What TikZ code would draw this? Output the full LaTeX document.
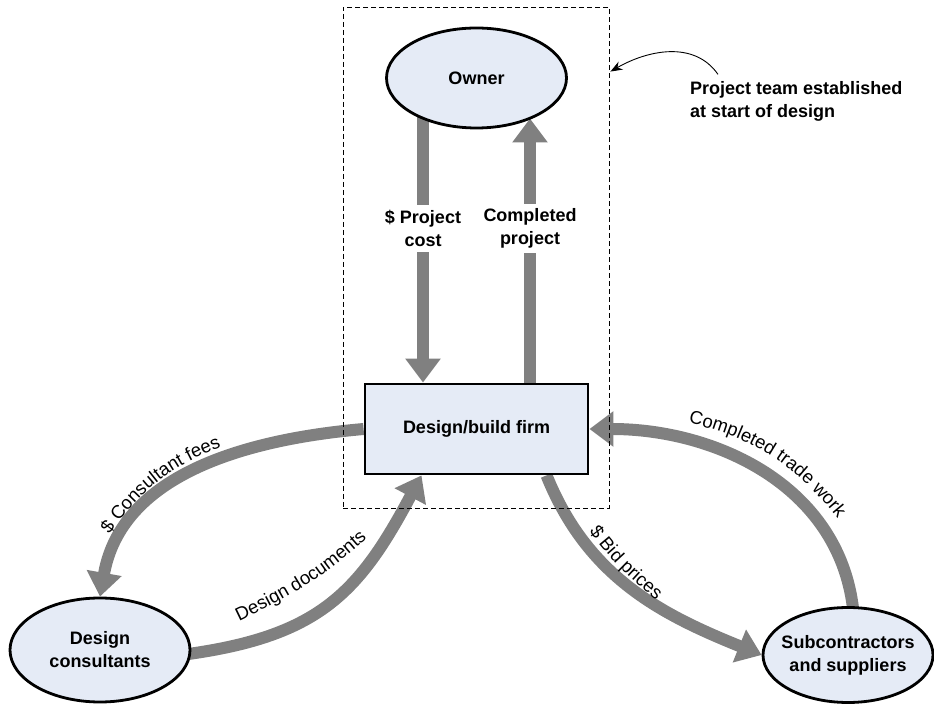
\documentclass[tikz,border=0pt]{standalone}
\usepackage{fontspec}
\setmainfont{Liberation Sans}
\usetikzlibrary{shapes.geometric,arrows.meta,decorations.text,calc}
\pgfdeclarelayer{background}
\pgfsetlayers{background,main}
\definecolor{nodefill}{RGB}{229,235,246}
\definecolor{flowgray}{RGB}{128,128,128}
\newcommand{\lblfont}{\fontsize{18}{23}\selectfont}
\newcommand{\arcfont}{\fontsize{18.5}{23}\selectfont}
\newcommand{\dollarsign}{\char36}
\begin{document}
\begin{tikzpicture}[x=1pt,y=1pt,
  party/.style={ellipse, draw=black, line width=2.8pt, fill=nodefill,
    align=center, inner sep=0pt, font=\bfseries\lblfont},
  firmbox/.style={rectangle, draw=black, line width=2.8pt, fill=nodefill,
    minimum width=223pt, minimum height=90pt, font=\bfseries\lblfont},
  flow/.style={draw=flowgray, line width=12pt,
    -{Triangle[width=34pt,length=24pt]}},
  flowlabel/.style={fill=white, align=center, inner sep=5pt,
    font=\bfseries\lblfont},
  teambox/.style={draw=black, line width=0.8pt, dash pattern=on 5pt off 3pt,
    inner sep=0pt, minimum width=266pt, minimum height=501pt},
  arctext/.style={decorate, decoration={text along path, raise=0pt,
    text align=center, text={|\arcfont|#1}}},
]
\useasboundingbox (0,0) rectangle (934,704);

% project team boundary
\node[teambox] (team) at (476,446.5) {};

% parties
\node[party, minimum width=180pt, minimum height=100pt] (owner) at (476.5,626) {Owner};
\node[firmbox] (firm) at (476.5,275) {Design/build firm};
\node[party, minimum width=180pt, minimum height=104pt] (cons) at (100,54) {Design\\consultants};
\node[party, inner xsep=-12pt, minimum width=170pt, minimum height=95pt] (sub) at (848,49) {Subcontractors\\and suppliers};

% flows between the parties
\begin{pgfonlayer}{background}
  \draw[flow] ($(owner.center)+(-53.5,0)$) -- ($(firm.north)+(-53.5,0)$);
  \draw[flow] ($(firm.north)+(53.5,0)$) -- ($(owner.center)+(53.5,-40.5)$);
  \draw[flow] (firm.west) to[out=185,in=80] (cons.north);
  \draw[flow] ($(cons.east)+(-3,-4)$) to[out=8,in=242,looseness=1.15] ($(firm.south)+(-55,0)$);
  \draw[flow] ($(firm.south)+(70,0)$) to[out=-68,in=158] (sub.west);
  \draw[flow] ($(sub.north)+(5,-2)$) to[out=97,in=0] (firm.east);
\end{pgfonlayer}

% labels on the vertical flows
\node[flowlabel] (cost) at (423,475.5) {\$ Project\\cost};
\node[flowlabel] (done) at (530,475.5) {Completed\\project};

% labels set along the curved flows
\path[arctext={{\dollarsign} Consultant fees}] (101,157) to[out=57,in=198] (236,262);
\path[arctext={Design documents}] (227,77) to[out=25,in=223] (377,175);
\path[arctext={{\dollarsign} Bid prices}] (584,180) to[out=-55,in=140] (663,98);
\path[arctext={Completed trade work}] (680,283) to[out=-12,in=128] (843,179);

% annotation
\node[anchor=west, align=left, inner sep=0pt, font=\bfseries\lblfont] (note)
  at (690,602.5) {Project team established\\at start of design};
\coordinate (teamedge) at ($(team.north east)+(1,-65)$);
\draw[line width=0.9pt, -{Stealth[length=12pt,width=9pt]}]
  ($(note.north west)+(28,7)$) to[out=125,in=30] (teamedge);
\end{tikzpicture}
\end{document}
